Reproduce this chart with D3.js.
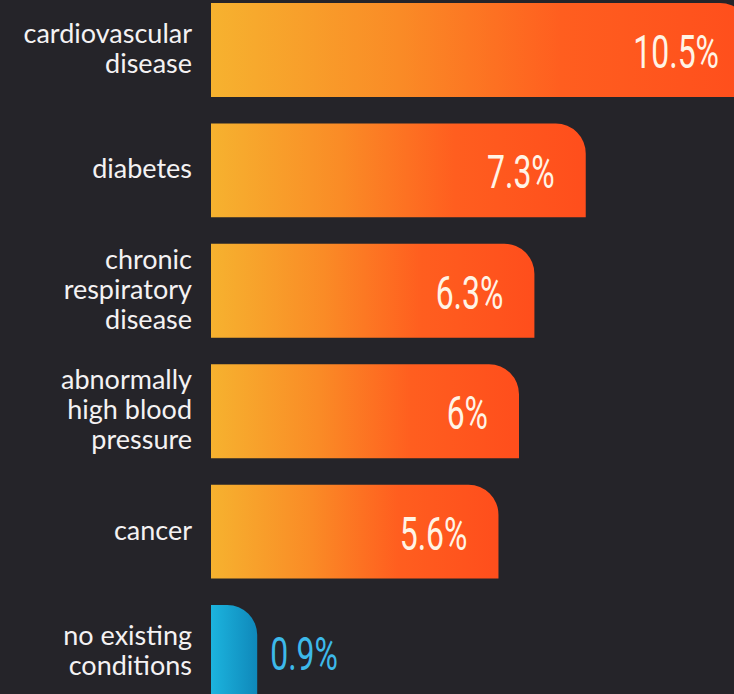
<!DOCTYPE html>
<html>
<head>
<meta charset="utf-8">
<script src="https://cdn.jsdelivr.net/npm/d3@7"></script>
<style>
  html, body { margin: 0; padding: 0; background: #252429; }
  svg { display: block; }
</style>
</head>
<body>
<svg id="chart" width="734" height="694"></svg>
<script>
const categories = [
  "cardiovascular disease",
  "diabetes",
  "chronic respiratory disease",
  "abnormally high blood pressure",
  "cancer",
  "no existing conditions"
];
const categoryLines = [
  ["cardiovascular", "disease"],
  ["diabetes"],
  ["chronic", "respiratory", "disease"],
  ["abnormally", "high blood", "pressure"],
  ["cancer"],
  ["no existing", "conditions"]
];
const values = [10.5, 7.3, 6.3, 6, 5.6, 0.9];
const valueLabels = ["10.5%", "7.3%", "6.3%", "6%", "5.6%", "0.9%"];
const groups = ["condition", "condition", "condition", "condition", "condition", "none"];

const W = 734, H = 694;
const svg = d3.select("#chart");

const defs = svg.append("defs");
const gOrange = defs.append("linearGradient").attr("id", "gradOrange")
  .attr("x1", "0%").attr("x2", "100%").attr("y1", "0%").attr("y2", "0%");
[["0%", "#f6b22f"], ["35%", "#fa8b26"], ["65%", "#ff5e1f"], ["100%", "#ff4e1c"]]
  .forEach(([o, c]) => gOrange.append("stop").attr("offset", o).attr("stop-color", c));
const gBlue = defs.append("linearGradient").attr("id", "gradBlue")
  .attr("x1", "0%").attr("x2", "100%").attr("y1", "0%").attr("y2", "0%");
[["0%", "#1cb4de"], ["100%", "#0f88ba"]]
  .forEach(([o, c]) => gBlue.append("stop").attr("offset", o).attr("stop-color", c));

const x = d3.scaleLinear().domain([0, 10.5]).range([211, 750]);
const y = d3.scaleBand().domain(categories).range([3, 699]).paddingInner(0.22).paddingOuter(0);

const R = 30;
function barPath(x0, x1, y0, h) {
  const r = Math.min(R, x1 - x0, h);
  return `M${x0},${y0}H${x1 - r}A${r},${r} 0 0 1 ${x1},${y0 + r}V${y0 + h}H${x0}Z`;
}

const data = categories.map((c, i) => ({
  cat: c, lines: categoryLines[i], value: values[i], label: valueLabels[i], group: groups[i]
}));

svg.append("g").selectAll("path").data(data).join("path")
  .attr("d", d => barPath(x(0), x(d.value), y(d.cat), y.bandwidth()))
  .attr("fill", d => d.group === "none" ? "url(#gradBlue)" : "url(#gradOrange)");

// category labels
const lineH = 30;
const catG = svg.append("g");
data.forEach(d => {
  const cy = y(d.cat) + y.bandwidth() / 2;
  const n = d.lines.length;
  const t = catG.append("text")
    .attr("x", 192)
    .attr("text-anchor", "end")
    .attr("fill", "#f4f2f3")
    .style("font-family", "Lato, 'Open Sans', sans-serif")
    .style("font-size", "27px");
  d.lines.forEach((ln, j) => {
    t.append("tspan")
      .attr("x", 192)
      .attr("y", cy + 8 + (j - (n - 1) / 2) * lineH)
      .text(ln);
  });
});

// value labels (condensed look via horizontal scale)
svg.append("g").selectAll("text").data(data).join("text")
  .attr("transform", d => {
    const tx = d.group === "none" ? x(d.value) + 13 : x(d.value) - 31;
    const ty = y(d.cat) + y.bandwidth() / 2 + 18;
    return `translate(${tx},${ty}) scale(0.68,1)`;
  })
  .attr("text-anchor", d => d.group === "none" ? "start" : "end")
  .attr("fill", d => d.group === "none" ? "#3db9ea" : "#fff4e6")
  .style("font-family", "Roboto, sans-serif")
  .style("font-weight", 400)
  .style("font-size", "47px")
  .text(d => d.label);
</script>
</body>
</html>
